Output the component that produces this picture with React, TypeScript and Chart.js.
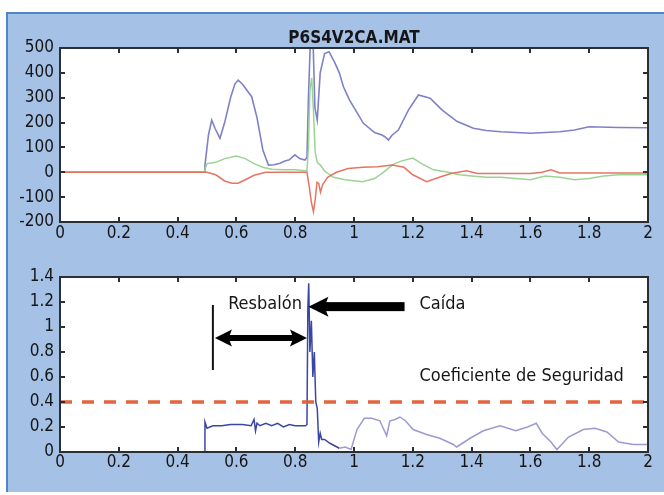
import React, { useEffect, useRef } from "react";
import { Chart, registerables } from "chart.js";

Chart.register(...registerables);

const FONT = "'Liberation Sans Narrow', 'DejaVu Sans Condensed', 'Arial Narrow', 'Roboto Condensed', sans-serif";

// ---------- Top plot data ----------
const titleText = "P6S4V2CA.MAT";
const topYTicks = [-200, -100, 0, 100, 200, 300, 400, 500];
const xTicks = [0, 0.2, 0.4, 0.6, 0.8, 1, 1.2, 1.4, 1.6, 1.8, 2];

const blueX = [0, 0.49, 0.493, 0.505, 0.516, 0.528, 0.544, 0.56, 0.58, 0.595, 0.606, 0.62, 0.652, 0.67, 0.69, 0.709, 0.728, 0.748, 0.765, 0.78, 0.799, 0.815, 0.833, 0.84, 0.845, 0.852, 0.86, 0.867, 0.875, 0.885, 0.9, 0.915, 0.935, 0.95, 0.964, 0.985, 1.032, 1.07, 1.095, 1.105, 1.117, 1.13, 1.151, 1.185, 1.219, 1.259, 1.3, 1.35, 1.406, 1.45, 1.5, 1.6, 1.7, 1.75, 1.8, 1.9, 2.0];
const blueY = [0, 0, 29, 150, 210, 175, 137, 200, 300, 355, 371, 355, 304, 220, 90, 29, 30, 36, 45, 50, 70, 55, 49, 60, 300, 540, 560, 260, 210, 400, 478, 485, 440, 400, 344, 290, 197, 160, 150, 143, 130, 150, 170, 250, 311, 298, 250, 205, 177, 168, 163, 157, 163, 170, 183, 180, 179];

const greenX = [0, 0.49, 0.5, 0.53, 0.56, 0.6, 0.63, 0.66, 0.69, 0.72, 0.76, 0.8, 0.84, 0.845, 0.85, 0.856, 0.862, 0.868, 0.875, 0.885, 0.9, 0.93, 0.97, 1.03, 1.07, 1.1, 1.13, 1.16, 1.2, 1.23, 1.27, 1.32, 1.36, 1.4, 1.45, 1.5, 1.55, 1.6, 1.65, 1.7, 1.75, 1.8, 1.85, 1.9, 2.0];
const greenY = [0, 0, 35, 40, 55, 65, 55, 35, 20, 12, 10, 10, 5, 100, 330, 380, 250, 80, 40, 30, 5, -20, -30, -38, -25, 0, 30, 45, 57, 35, 10, 0, -10, -15, -20, -20, -25, -30, -15, -20, -30, -25, -15, -10, -10];

const redX = [0, 0.5, 0.53, 0.56, 0.585, 0.606, 0.63, 0.66, 0.7, 0.84, 0.848, 0.855, 0.862, 0.868, 0.874, 0.88, 0.886, 0.893, 0.91, 0.94, 0.98, 1.03, 1.08, 1.13, 1.17, 1.2, 1.247, 1.29, 1.33, 1.383, 1.42, 1.5, 1.6, 1.64, 1.67, 1.7, 1.8, 2.0];
const redY = [0, 0, -10, -35, -44, -44, -30, -12, 0, 0, -60, -120, -159, -110, -40, -45, -80, -50, -20, 0, 15, 20, 22, 29, 20, -10, -38, -20, -5, 6, -5, -5, -5, 0, 10, -3, -3, -3];

// ---------- Bottom plot data ----------
const bottomYTicks = [0, 0.2, 0.4, 0.6, 0.8, 1, 1.2, 1.4];
const coefX = [0, 0.49, 0.493, 0.5, 0.52, 0.55, 0.58, 0.62, 0.65, 0.66, 0.665, 0.67, 0.68, 0.7, 0.72, 0.74, 0.76, 0.78, 0.8, 0.835, 0.84, 0.843, 0.846, 0.85, 0.855, 0.86, 0.865, 0.87, 0.875, 0.88, 0.885, 0.89, 0.9, 0.918, 0.95, 0.97, 0.99, 1.01, 1.035, 1.06, 1.088, 1.111, 1.122, 1.14, 1.156, 1.175, 1.201, 1.247, 1.292, 1.338, 1.349, 1.395, 1.44, 1.497, 1.55, 1.59, 1.62, 1.64, 1.67, 1.69, 1.73, 1.78, 1.82, 1.86, 1.9, 1.95, 2.0];
const coefY = [0, 0, 0.24, 0.19, 0.21, 0.21, 0.22, 0.22, 0.21, 0.26, 0.17, 0.23, 0.21, 0.23, 0.21, 0.23, 0.2, 0.22, 0.21, 0.21, 0.22, 1.15, 1.35, 0.8, 1.05, 0.6, 0.8, 0.4, 0.35, 0.08, 0.15, 0.1, 0.1, 0.07, 0.03, 0.04, 0.02, 0.18, 0.27, 0.27, 0.25, 0.13, 0.25, 0.26, 0.28, 0.25, 0.18, 0.14, 0.11, 0.06, 0.04, 0.11, 0.17, 0.21, 0.17, 0.2, 0.23, 0.15, 0.08, 0.02, 0.12, 0.18, 0.19, 0.16, 0.08, 0.06, 0.06];
const thresholdX = [0, 2];
const thresholdY = [0.4, 0.4];

// annotations (data units)
const slipMarkX = 0.52;
const slipMarkY = [0.656, 1.176];
const slipArrowX = [0.527, 0.84];
const slipArrowY = 0.912;
const fallArrowX = [1.172, 0.845];
const fallArrowY = 1.163;
const labelTexts = ["Resbalón", "Caída", "Coeficiente de Seguridad"];
const labelX = [0.572, 1.223, 1.223];
const labelY = [1.144, 1.144, 0.572];

const zip = (xs: number[], ys: number[]) => xs.map((x, i) => ({ x, y: ys[i] }));
const fmt = (v: number) => String(Math.round(v * 10) / 10);

const TEXT = "#151515";
const AXIS = "#2a2e35";

function frameAndTicks(title?: string) {
  return {
    id: "matlabFrame",
    beforeDatasetsDraw(chart: any) {
      const { ctx, chartArea: a } = chart;
      ctx.save();
      ctx.fillStyle = "#ffffff";
      ctx.fillRect(a.left, a.top, a.right - a.left, a.bottom - a.top);
      ctx.restore();
    },
    afterDatasetsDraw(chart: any) {
      const { ctx, chartArea: a, scales } = chart;
      ctx.save();
      ctx.strokeStyle = AXIS;
      ctx.lineWidth = 2;
      const xs = scales.x, ys = scales.y;
      const L = 5;
      xs.ticks.forEach((t: any) => {
        const p = Math.round(xs.getPixelForValue(t.value));
        if (p <= a.left + 1 || p >= a.right - 1) return;
        ctx.beginPath();
        ctx.moveTo(p, a.bottom); ctx.lineTo(p, a.bottom - L);
        ctx.moveTo(p, a.top); ctx.lineTo(p, a.top + L);
        ctx.stroke();
      });
      ys.ticks.forEach((t: any) => {
        const p = Math.round(ys.getPixelForValue(t.value));
        if (p <= a.top + 1 || p >= a.bottom - 1) return;
        ctx.beginPath();
        ctx.moveTo(a.left, p); ctx.lineTo(a.left + L, p);
        ctx.moveTo(a.right, p); ctx.lineTo(a.right - L, p);
        ctx.stroke();
      });
      ctx.lineWidth = 2;
      ctx.strokeRect(a.left, a.top, a.right - a.left, a.bottom - a.top);
      ctx.restore();
    },
    afterDraw(chart: any) {
      if (!title) return;
      const { ctx, chartArea: a } = chart;
      ctx.save();
      ctx.fillStyle = TEXT;
      ctx.font = `bold 17px ${FONT}`;
      ctx.textAlign = "center";
      ctx.textBaseline = "alphabetic";
      ctx.fillText(title, (a.left + a.right) / 2, a.top - 5);
      ctx.restore();
    },
  };
}

const annotationPlugin = {
  id: "annotations",
  afterDatasetsDraw(chart: any) {
    const { ctx, scales } = chart;
    const X = (v: number) => scales.x.getPixelForValue(v);
    const Y = (v: number) => scales.y.getPixelForValue(v);
    ctx.save();
    ctx.fillStyle = "#000";
    ctx.strokeStyle = "#111";
    // vertical mark
    ctx.lineWidth = 2;
    ctx.beginPath();
    ctx.moveTo(X(slipMarkX), Y(slipMarkY[0]));
    ctx.lineTo(X(slipMarkX), Y(slipMarkY[1]));
    ctx.stroke();

    const arrowHead = (tipX: number, y: number, dir: number, len: number, half: number) => {
      ctx.beginPath();
      ctx.moveTo(tipX, y);
      ctx.lineTo(tipX + dir * len, y - half);
      ctx.lineTo(tipX + dir * len * 0.8, y);
      ctx.lineTo(tipX + dir * len, y + half);
      ctx.closePath();
      ctx.fill();
    };
    // double arrow
    const sy = Y(slipArrowY);
    const sl = X(slipArrowX[0]), sr = X(slipArrowX[1]);
    ctx.fillRect(sl + 10, sy - 3, sr - sl - 20, 6);
    arrowHead(sl, sy, 1, 17, 8.5);
    arrowHead(sr, sy, -1, 17, 8.5);
    // fall arrow
    const fy = Y(fallArrowY);
    const ft = X(fallArrowX[1]), fs = X(fallArrowX[0]);
    ctx.fillRect(ft + 14, fy - 4.5, fs - ft - 14, 9);
    arrowHead(ft, fy, 1, 20, 10);

    ctx.fillStyle = TEXT;
    ctx.font = `18px ${FONT}`;
    ctx.textAlign = "left";
    ctx.textBaseline = "alphabetic";
    labelTexts.forEach((t, i) => ctx.fillText(t, X(labelX[i]), Y(labelY[i])));
    ctx.restore();
  },
};

function axisOpts(min: number, max: number, ticks: number[], isX: boolean, size: number, pad: number) {
  return {
    type: "linear" as const,
    min,
    max,
    afterBuildTicks: (scale: any) => {
      scale.ticks = ticks.map((v) => ({ value: v }));
    },
    afterFit: (scale: any) => {
      if (isX) scale.height = size;
      else scale.width = size;
    },
    grid: { display: false, drawTicks: false },
    border: { display: false },
    ticks: {
      color: TEXT,
      font: { family: FONT, size: 17 },
      padding: pad,
      maxRotation: 0,
      autoSkip: false,
      callback: (v: any) => fmt(Number(v)),
    },
  };
}

export default function App() {
  const topRef = useRef<HTMLCanvasElement>(null);
  const botRef = useRef<HTMLCanvasElement>(null);

  useEffect(() => {
    const top = new Chart(topRef.current!, {
      type: "line",
      data: {
        datasets: [
          { data: zip(redX, redY), borderColor: "rgba(228,110,90,0.95)", borderWidth: 1.5, pointRadius: 0, tension: 0 },
          { data: zip(greenX, greenY), borderColor: "rgba(150,210,140,0.95)", borderWidth: 1.5, pointRadius: 0, tension: 0 },
          { data: zip(blueX, blueY), borderColor: "rgba(120,122,196,0.95)", borderWidth: 1.6, pointRadius: 0, tension: 0 },
        ],
      },
      options: {
        animation: false,
        responsive: false,
        maintainAspectRatio: false,
        layout: { padding: { left: 8, right: 16, top: 48, bottom: 0 } },
        plugins: { legend: { display: false }, tooltip: { enabled: false }, title: { display: false } },
        scales: {
          x: axisOpts(0, 2, xTicks, true, 28, 1),
          y: axisOpts(-200, 500, topYTicks, false, 52, 6),
        },
      } as any,
      plugins: [frameAndTicks(titleText)],
    });

    const bot = new Chart(botRef.current!, {
      type: "line",
      data: {
        datasets: [
          { data: zip(thresholdX, thresholdY), borderColor: "rgba(226,92,52,0.95)", borderWidth: 3.5, borderDash: [12, 10], pointRadius: 0, tension: 0 },
          {
            data: zip(coefX, coefY),
            borderColor: "#3b46a2",
            borderWidth: 1.5,
            pointRadius: 0,
            tension: 0,
            segment: {
              borderColor: (c: any) => (c.p0.parsed.x < 0.95 ? "#3b46a2" : "#9c9ad0"),
            },
          },
        ],
      },
      options: {
        animation: false,
        responsive: false,
        maintainAspectRatio: false,
        layout: { padding: { left: 8, right: 16, top: 27, bottom: 0 } },
        plugins: { legend: { display: false }, tooltip: { enabled: false }, title: { display: false } },
        scales: {
          x: axisOpts(0, 2, xTicks, true, 43, 0),
          y: axisOpts(0, 1.4, bottomYTicks, false, 52, 6),
        },
      } as any,
      plugins: [frameAndTicks(), annotationPlugin],
    });

    return () => {
      top.destroy();
      bot.destroy();
    };
  }, []);

  return (
    <div style={{ position: "absolute", left: 0, top: 0, width: 664, height: 495, background: "#ffffff", overflow: "hidden" }}>
      <div
        style={{
          position: "absolute",
          left: 6,
          top: 12,
          width: 658,
          height: 480,
          background: "#a5c1e6",
          borderTop: "2px solid #4f86c8",
          borderLeft: "2px solid #4f86c8",
          boxSizing: "border-box",
        }}
      />
      <canvas ref={topRef} width={664} height={250} style={{ position: "absolute", left: 0, top: 0, width: 664, height: 250 }} />
      <canvas ref={botRef} width={664} height={245} style={{ position: "absolute", left: 0, top: 250, width: 664, height: 245 }} />
    </div>
  );
}
